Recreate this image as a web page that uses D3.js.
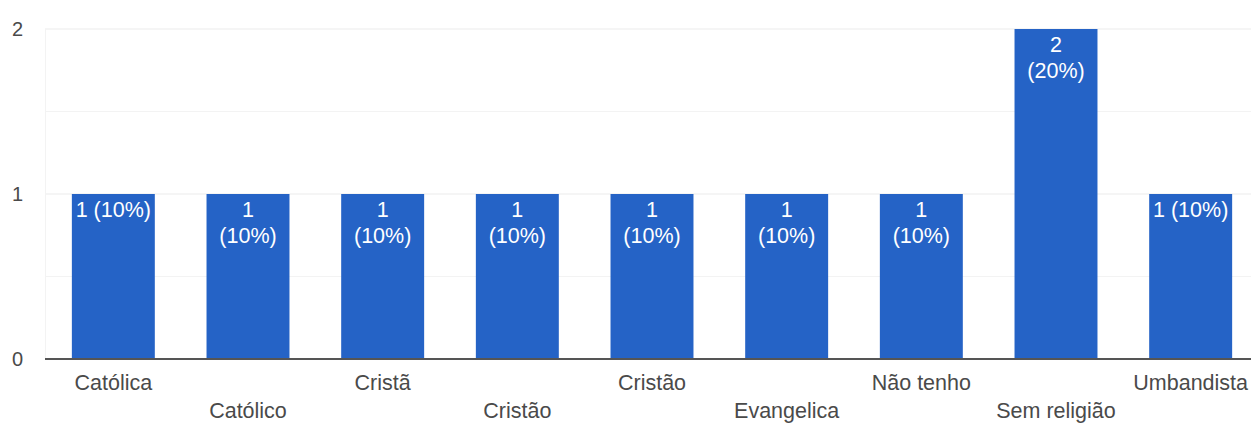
<!DOCTYPE html>
<html>
<head>
<meta charset="utf-8">
<script src="https://cdn.jsdelivr.net/npm/d3@7"></script>
<style>
  html, body { margin: 0; padding: 0; background: #fff; }
  svg { display: block; font-family: "Liberation Sans", Arial, sans-serif; }
</style>
</head>
<body>
<svg id="chart" width="1251" height="425"></svg>
<script>
const categories = ["Católica", "Católico", "Cristã", "Cristão", "Cristão", "Evangelica", "Não tenho", "Sem religião", "Umbandista"];
const values = [1, 1, 1, 1, 1, 1, 1, 2, 1];
const percents = ["10%", "10%", "10%", "10%", "10%", "10%", "10%", "20%", "10%"];
const yTicks = [0, 1, 2];
const yMinorTicks = [0.5, 1.5];
const singleLine = [true, false, false, false, false, false, false, false, true];

const svg = d3.select("#chart");
const idx = d3.range(categories.length);

const x = d3.scaleBand()
  .domain(idx)
  .range([46, 1258])
  .paddingInner(0.384)
  .paddingOuter(0.192);

const y = d3.scaleLinear().domain([0, 2]).range([359, 29]);

// minor gridlines
svg.append("g").selectAll("line").data(yMinorTicks).join("line")
  .attr("x1", 45).attr("x2", 1251)
  .attr("y1", d => y(d)).attr("y2", d => y(d))
  .attr("stroke", "#f3f3f3").attr("stroke-width", 1);

// major gridlines
svg.append("g").selectAll("line").data(yTicks.filter(d => d > 0)).join("line")
  .attr("x1", 45).attr("x2", 1251)
  .attr("y1", d => y(d)).attr("y2", d => y(d))
  .attr("stroke", "#ebebeb").attr("stroke-width", 1);

// left faint border
svg.append("line")
  .attr("x1", 45.5).attr("x2", 45.5).attr("y1", y(2)).attr("y2", y(0))
  .attr("stroke", "#f3f3f3");

// y axis labels
const yAxis = d3.axisLeft(y).tickValues(yTicks).tickFormat(d3.format("d")).tickSize(0).tickPadding(0);
const gy = svg.append("g").attr("transform", "translate(23,0)").call(yAxis);
gy.select(".domain").remove();
gy.selectAll("text").attr("font-size", 20).attr("fill", "#4a4a4a")
  .attr("font-family", "'Liberation Sans', Arial, sans-serif");

// bars
svg.append("g").selectAll("rect").data(idx).join("rect")
  .attr("x", i => x(i))
  .attr("width", x.bandwidth())
  .attr("y", i => y(values[i]))
  .attr("height", i => y(0) - y(values[i]))
  .attr("fill", "#2563c6");

// bar labels
const lbl = svg.append("g").selectAll("text").data(idx).join("text")
  .attr("text-anchor", "middle")
  .attr("fill", "#fff")
  .attr("font-size", 21.5)
  .attr("x", i => x(i) + x.bandwidth() / 2)
  .attr("y", i => y(values[i]) + 23);
lbl.each(function(i) {
  const t = d3.select(this);
  if (singleLine[i]) {
    t.append("tspan").text(values[i] + " (" + percents[i] + ")");
  } else {
    t.append("tspan").attr("x", x(i) + x.bandwidth() / 2).text(values[i]);
    t.append("tspan").attr("x", x(i) + x.bandwidth() / 2).attr("dy", 26).text("(" + percents[i] + ")");
  }
});

// baseline
svg.append("line")
  .attr("x1", 45).attr("x2", 1251)
  .attr("y1", y(0)).attr("y2", y(0))
  .attr("stroke", "#555").attr("stroke-width", 2);

// x axis labels (staggered)
const xAxis = d3.axisBottom(x).tickFormat(i => categories[i]).tickSize(0).tickPadding(0);
const gx = svg.append("g").attr("transform", "translate(0," + y(0) + ")").call(xAxis);
gx.select(".domain").remove();
gx.selectAll("text")
  .attr("font-size", 21.5)
  .attr("fill", "#4a4a4a")
  .attr("font-family", "'Liberation Sans', Arial, sans-serif")
  .attr("dy", null)
  .attr("y", i => (i % 2 === 0 ? 31 : 59));
</script>
</body>
</html>
